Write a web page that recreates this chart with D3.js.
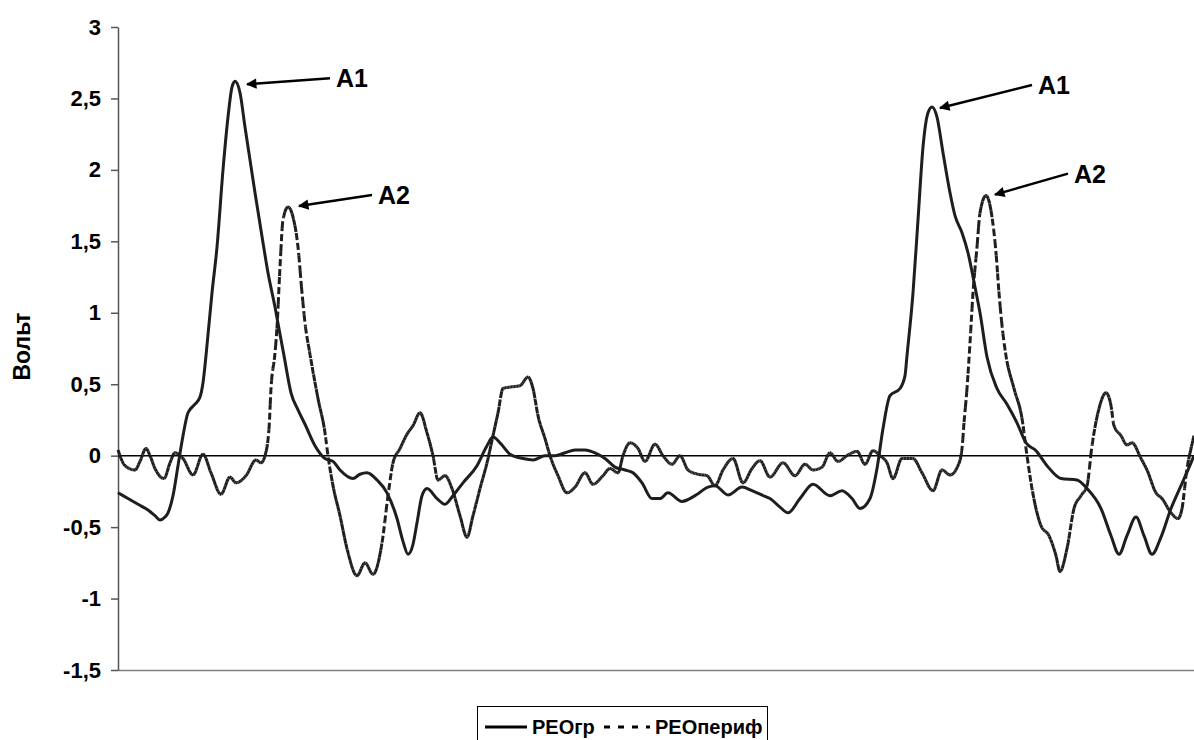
<!DOCTYPE html>
<html>
<head>
<meta charset="utf-8">
<script src="https://cdnjs.cloudflare.com/ajax/libs/d3/7.8.5/d3.min.js"></script>
<style>
  body { margin: 0; background: #fff; }
  text { font-family: "Liberation Sans", Arial, sans-serif; font-weight: bold; }
</style>
</head>
<body>
<svg width="1194" height="740"></svg>
<script>
// sample index (t) and voltage for each trace
const grT = [0,10,20,30,37,42,47,50,55,60,65,70,77,82,85,88,94,99,105,110,114,117,122,127,132,137,145,150,157,162,166,173,180,187,197,207,215,222,235,242,249,259,269,279,285,290,295,299,304,309,319,327,335,345,359,369,375,382,392,405,415,427,437,447,457,467,477,487,497,507,515,524,534,542,550,564,577,590,597,610,624,634,647,652,662,670,682,695,712,724,734,742,752,759,765,772,782,787,789,795,800,805,810,814,819,825,832,837,844,850,857,862,869,879,889,899,908,918,929,943,959,969,983,993,1001,1009,1018,1026,1034,1043,1053,1063,1073,1076]
const grV = [-0.26,-0.30,-0.34,-0.38,-0.42,-0.45,-0.43,-0.40,-0.28,-0.07,0.14,0.30,0.36,0.41,0.51,0.70,1.14,1.46,2.00,2.37,2.58,2.62,2.54,2.30,2.07,1.84,1.49,1.28,1.04,0.85,0.70,0.44,0.32,0.22,0.07,-0.02,-0.04,-0.10,-0.16,-0.13,-0.12,-0.17,-0.26,-0.44,-0.60,-0.69,-0.62,-0.47,-0.28,-0.23,-0.30,-0.34,-0.28,-0.19,-0.07,0.07,0.13,0.09,0.01,-0.02,-0.03,0.0,0.0,0.02,0.04,0.04,0.02,-0.02,-0.08,-0.10,-0.12,-0.19,-0.30,-0.30,-0.26,-0.32,-0.28,-0.22,-0.21,-0.275,-0.22,-0.245,-0.285,-0.30,-0.36,-0.40,-0.30,-0.20,-0.28,-0.245,-0.30,-0.37,-0.30,-0.09,0.19,0.42,0.47,0.56,0.70,1.14,1.65,2.16,2.40,2.44,2.37,2.12,1.84,1.68,1.56,1.42,1.18,1.00,0.69,0.47,0.36,0.23,0.09,0.035,-0.07,-0.16,-0.17,-0.23,-0.37,-0.56,-0.69,-0.56,-0.43,-0.56,-0.69,-0.57,-0.37,-0.21,-0.05,0.0]

const perT = [0,7,17,22,28,32,37,46,52,57,65,75,85,93,103,112,118,128,138,143,147,151,153,157,159,162,165,170,175,180,184,187,192,200,207,210,215,222,229,239,247,255,264,270,275,282,289,295,302,309,315,320,327,334,342,349,355,362,369,375,380,385,392,402,410,415,420,427,432,440,449,457,467,475,485,492,500,505,512,520,527,537,545,554,562,570,580,589,597,605,615,625,634,642,652,665,677,687,695,704,712,720,730,739,747,755,762,769,775,784,795,804,815,824,832,840,844,846,849,852,855,859,862,868,874,878,881,885,888,896,904,909,914,923,931,938,942,949,956,963,969,974,981,988,993,996,1003,1009,1014,1023,1029,1038,1044,1053,1060,1064,1069,1073,1076]
const perV = [0.04,-0.07,-0.10,-0.04,0.05,0.0,-0.09,-0.16,-0.05,0.02,-0.02,-0.135,0.01,-0.12,-0.27,-0.15,-0.19,-0.14,-0.03,-0.05,0.0,0.19,0.47,0.72,0.90,1.32,1.65,1.74,1.67,1.46,1.14,0.93,0.71,0.40,0.16,0.0,-0.21,-0.42,-0.65,-0.84,-0.75,-0.83,-0.61,-0.28,-0.05,0.05,0.15,0.21,0.30,0.16,0.0,-0.17,-0.14,-0.23,-0.42,-0.57,-0.42,-0.23,-0.05,0.14,0.30,0.47,0.48,0.49,0.55,0.47,0.28,0.12,0.0,-0.14,-0.26,-0.22,-0.12,-0.20,-0.14,-0.09,-0.12,0.0,0.09,0.05,-0.04,0.08,0.0,-0.06,0.0,-0.10,-0.13,-0.14,-0.21,-0.10,-0.02,-0.19,-0.09,-0.035,-0.15,-0.05,-0.14,-0.06,-0.10,-0.08,0.02,-0.04,0.005,0.03,-0.06,0.035,0.0,-0.05,-0.16,-0.02,-0.02,-0.12,-0.245,-0.10,-0.135,-0.07,0.05,0.23,0.47,0.79,1.14,1.46,1.70,1.82,1.67,1.42,1.14,0.85,0.70,0.47,0.26,0.0,-0.23,-0.49,-0.56,-0.70,-0.81,-0.65,-0.37,-0.28,-0.21,0.07,0.33,0.44,0.35,0.21,0.14,0.075,0.09,-0.02,-0.10,-0.26,-0.30,-0.40,-0.44,-0.37,-0.09,0.05,0.14]

const yTicks = [-1.5, -1, -0.5, 0, 0.5, 1, 1.5, 2, 2.5, 3]
const seriesNames = ['РЕОгр', 'РЕОпериф']
// peak labels: trace, peak index into that trace
const peakLabels = [
  { name: 'A1', series: 'gr', t: 117 },
  { name: 'A2', series: 'per', t: 170 },
  { name: 'A1', series: 'gr', t: 814 },
  { name: 'A2', series: 'per', t: 868 }
]

const svg = d3.select('svg')
const plotLeft = 118, plotRight = 1194, plotTop = 27, plotBottom = 670

const x = d3.scaleLinear().domain([0, 1076]).range([plotLeft, plotRight])
const y = d3.scaleLinear().domain([-1.5, 3]).range([plotBottom, plotTop])

const grData = grT.map((t, i) => [t, grV[i]])
const perData = perT.map((t, i) => [t, perV[i]])

const line = d3.line()
  .x(d => x(d[0]))
  .y(d => y(d[1]))
  .curve(d3.curveMonotoneX)

// bottom border of plot area
svg.append('line')
  .attr('x1', plotLeft).attr('x2', plotRight)
  .attr('y1', plotBottom + 0.5).attr('y2', plotBottom + 0.5)
  .attr('stroke', '#808080').attr('stroke-width', 1.5)

// y axis
const yAxis = svg.append('g')
  .attr('transform', `translate(${plotLeft},0)`)
  .call(d3.axisLeft(y).tickValues(yTicks).tickSize(7).tickSizeOuter(0).tickPadding(10)
    .tickFormat(d => String(d).replace('.', ',')))
yAxis.attr('font-size', 22)
yAxis.select('.domain').attr('stroke', '#555').attr('stroke-width', 1.5)
yAxis.selectAll('.tick line').attr('stroke', '#555').attr('stroke-width', 1.5)
yAxis.selectAll('.tick text')
  .attr('fill', '#000')
  .style('font-size', '22px')
  .style('font-family', '"Liberation Sans", Arial, sans-serif').style('font-weight', 'bold')

svg.append('text')
  .attr('transform', `translate(30,${(plotTop + plotBottom) / 2 - 2}) rotate(-90)`)
  .attr('text-anchor', 'middle')
  .attr('font-size', 23)
  .text('Вольт')

// zero line
svg.append('line')
  .attr('x1', plotLeft).attr('x2', plotRight)
  .attr('y1', y(0)).attr('y2', y(0))
  .attr('stroke', '#000').attr('stroke-width', 1.5)

// РЕОгр - solid
svg.append('path')
  .attr('d', line(grData))
  .attr('fill', 'none')
  .attr('stroke', '#1e1e1e')
  .attr('stroke-width', 3)
  .attr('stroke-linejoin', 'round')

// РЕОпериф - dashed, the dash restarts on every small step like the spreadsheet does
const ghost = svg.append('path').attr('d', line(perData)).attr('fill', 'none').attr('stroke', 'none')
const node = ghost.node()
const total = node.getTotalLength()
const pieces = []
let cur = [node.getPointAtLength(0)]
let startX = cur[0].x
for (let s = 0.5; s <= total + 0.5; s += 0.5) {
  const p = node.getPointAtLength(Math.min(s, total))
  cur.push(p)
  if (p.x - startX >= 1.3 || s >= total) {
    pieces.push(cur)
    cur = [p]
    startX = p.x
  }
}
ghost.remove()
const perG = svg.append('g')
perG.selectAll('path').data(pieces).enter().append('path')
  .attr('d', d => 'M' + d.map(p => p.x.toFixed(2) + ',' + p.y.toFixed(2)).join('L'))
  .attr('fill', 'none')
  .attr('stroke', '#1e1e1e')
  .attr('stroke-width', 3)
  .attr('stroke-dasharray', '7,3')

// peak arrows
svg.append('defs').append('marker')
  .attr('id', 'arrow')
  .attr('viewBox', '0 0 10 10')
  .attr('refX', 9).attr('refY', 5)
  .attr('markerWidth', 6).attr('markerHeight', 4.2)
  .attr('markerUnits', 'strokeWidth')
  .attr('orient', 'auto')
  .append('path').attr('d', 'M0,0L10,5L0,10Z').attr('fill', '#000')

const peakOffsets = [[12, 3, 95, -3], [11, -1, 84, -12], [8, 1, 100, -22], [9, -1, 82, -22]]
peakLabels.forEach((p, i) => {
  const tArr = p.series === 'gr' ? grT : perT
  const vArr = p.series === 'gr' ? grV : perV
  const v = vArr[tArr.indexOf(p.t)]
  const o = peakOffsets[i]
  const tipX = x(p.t) + o[0], tipY = y(v) + o[1]
  const endX = x(p.t) + o[2], endY = y(v) + o[3]
  svg.append('line')
    .attr('x1', endX).attr('y1', endY)
    .attr('x2', tipX).attr('y2', tipY)
    .attr('stroke', '#000').attr('stroke-width', 2.5)
    .attr('marker-end', 'url(#arrow)')
  svg.append('text')
    .attr('x', endX + 6).attr('y', endY + 9)
    .attr('font-size', 25)
    .text(p.name)
})

// legend
const lg = svg.append('g').attr('transform', 'translate(477,706)')
lg.append('rect')
  .attr('x', 0.5).attr('y', 0.5).attr('width', 290).attr('height', 45)
  .attr('fill', '#fff').attr('stroke', '#000').attr('stroke-width', 1)
lg.append('line').attr('x1', 8).attr('x2', 50).attr('y1', 21).attr('y2', 21)
  .attr('stroke', '#000').attr('stroke-width', 3)
lg.append('text').attr('x', 55).attr('y', 28).attr('font-size', 20).text(seriesNames[0])
lg.append('line').attr('x1', 127).attr('x2', 173).attr('y1', 21).attr('y2', 21)
  .attr('stroke', '#000').attr('stroke-width', 3).attr('stroke-dasharray', '6,8')
lg.append('text').attr('x', 178).attr('y', 28).attr('font-size', 20).text(seriesNames[1])
</script>
</body>
</html>
